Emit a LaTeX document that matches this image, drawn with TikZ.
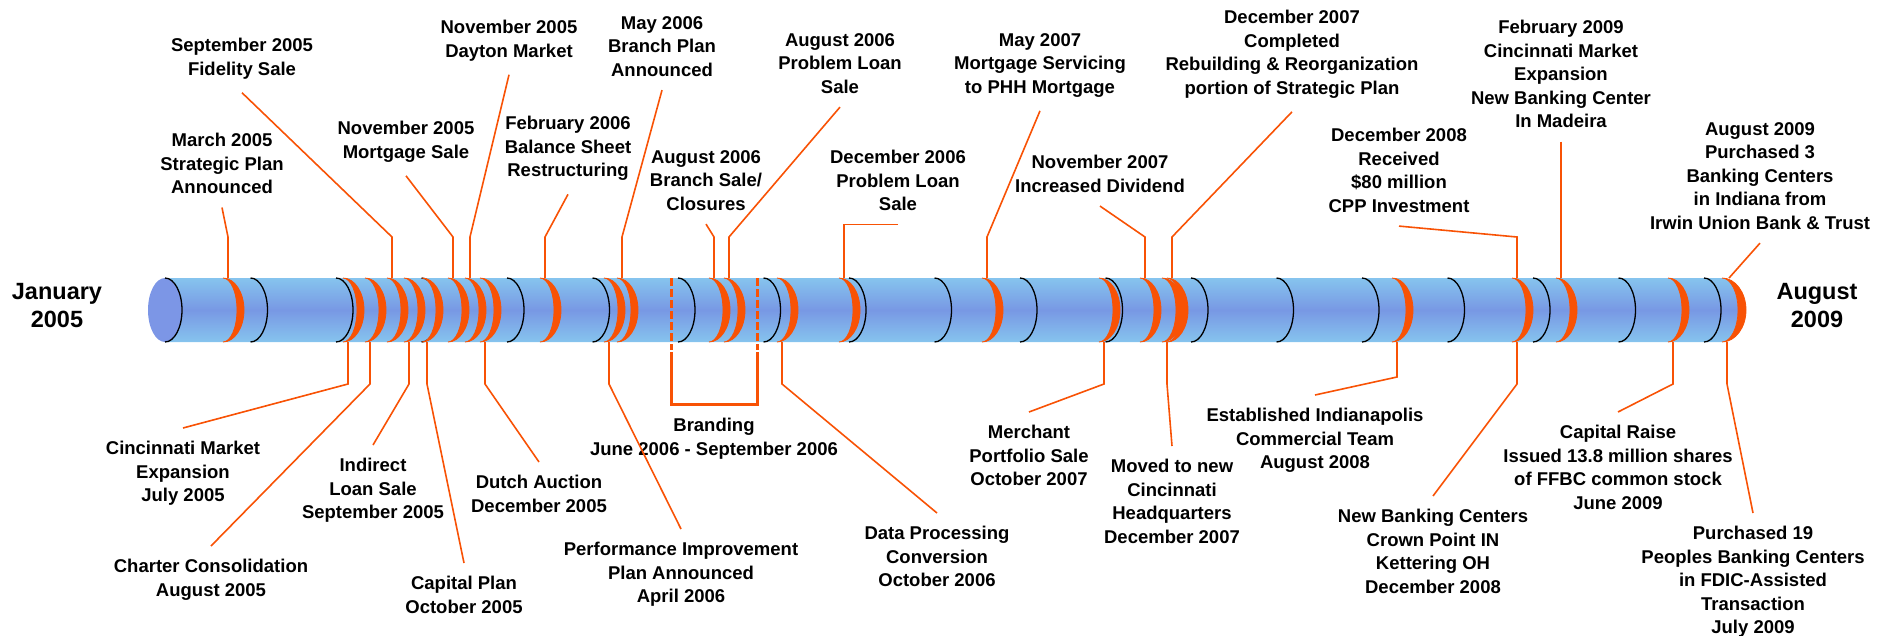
\documentclass[tikz,border=0pt]{standalone}
\usepackage{fontspec}
\setmainfont{Liberation Sans}
\definecolor{tlorange}{RGB}{248,82,5}
\definecolor{tubelight}{RGB}{134,196,238}
\definecolor{tubemid}{RGB}{120,152,228}
\definecolor{tubecap}{RGB}{124,150,230}
\tikzset{
  evt/.style={font=\bfseries\fontsize{18.5}{23.5}\selectfont,align=center,inner sep=0pt,outer ysep=13.5pt,anchor=north},
  datelbl/.style={font=\bfseries\fontsize{23.5}{28}\selectfont,align=center,inner sep=0pt},
  conn/.style={draw=tlorange,line width=1.6pt},
}
\begin{document}
\begin{tikzpicture}[x=1pt,y=1pt]
\useasboundingbox (0,0) rectangle (1891,-635);
\pgfmathsetmacro{\haut}{-278}
\pgfmathsetmacro{\bas}{-342}
% the tube
\shade[top color=tubelight,bottom color=tubelight,middle color=tubemid] (165,\haut) -- (1722,\haut) arc[start angle=90,end angle=-90,x radius=16pt,y radius=32pt] -- (165,\bas) -- cycle;
\fill[tubecap] (165,-310) ellipse [x radius=17pt,y radius=32pt];
\foreach \i in {0,...,18} \draw[line width=1.3pt] ({165+85.5*\i},\haut) arc[start angle=90,end angle=-90,x radius=17pt,y radius=32pt];
\foreach \x in {223,343,365,387,404,422,448,465,480,540,604,617,709,724,777,839,982,1099,1140,1162,1167,1392,1512,1556,1668}
  \filldraw[tlorange,line width=0.8pt] (\x,\haut) arc[start angle=90,end angle=-90,x radius=21pt,y radius=32pt] arc[start angle=-90,end angle=90,x radius=14pt,y radius=32pt] -- cycle;
\filldraw[tlorange,line width=0.8pt] (1722,\haut) arc[start angle=90,end angle=-90,x radius=24pt,y radius=32pt] arc[start angle=-90,end angle=90,x radius=16pt,y radius=32pt] -- cycle;
% branding bracket
\foreach \x in {671,757} \draw[tlorange,line width=3pt,dash pattern=on 8pt off 3pt] (\x,\haut) -- (\x,-350);
\draw[tlorange,line width=3pt] (671,-352) -- (671,-404) -- (757,-404) -- (757,-352);
% end dates
\node[datelbl] (jan05) at (57,-306) {January\\2005};
\node[datelbl] (aug09end) at (1817,-306) {August\\2009};
% events above
\node[evt] (mar) at (222,-120) {March 2005\\Strategic Plan\\Announced};
\node[evt] (sepf) at (242,-25) {September 2005\\Fidelity Sale};
\node[evt] (novm) at (406,-108) {November 2005\\Mortgage Sale};
\node[evt] (novd) at (509,-7) {November 2005\\Dayton Market};
\node[evt] (feb06) at (568,-103) {February 2006\\Balance Sheet\\Restructuring};
\node[evt] (may06) at (662,-3) {May 2006\\Branch Plan\\Announced};
\node[evt] (augb) at (706,-137) {August 2006\\Branch Sale/\\Closures};
\node[evt] (augp) at (840,-20) {August 2006\\Problem Loan\\Sale};
\node[evt] (dec06) at (898,-137) {December 2006\\Problem Loan\\Sale};
\node[evt] (may07) at (1040,-20) {May 2007\\Mortgage Servicing\\to PHH Mortgage};
\node[evt] (nov07) at (1100,-142) {November 2007\\Increased Dividend};
\node[evt] (dec07) at (1292,3) {December 2007\\Completed\\Rebuilding \& Reorganization\\portion of Strategic Plan};
\node[evt] (dec08) at (1399,-115) {December 2008\\Received\\\$80 million\\CPP Investment};
\node[evt] (feb09) at (1561,-7) {February 2009\\Cincinnati Market\\Expansion\\New Banking Center\\In Madeira};
\node[evt] (aug09) at (1760,-109) {August 2009\\Purchased 3\\Banking Centers\\in Indiana from\\Irwin Union Bank \& Trust};
% events below
\node[evt] (jul05) at (183,-428) {Cincinnati Market\\Expansion\\July 2005};
\node[evt] (aug05) at (211,-546) {Charter Consolidation\\August 2005};
\node[evt] (sep05) at (373,-445) {Indirect\\Loan Sale\\September 2005};
\node[evt] (oct05) at (464,-563) {Capital Plan\\October 2005};
\node[evt] (dec05) at (539,-462) {Dutch Auction\\December 2005};
\node[evt] (apr06) at (681,-529) {Performance Improvement\\Plan Announced\\April 2006};
\node[evt] (brand) at (714,-405) {Branding\\June 2006 - September 2006};
\node[evt] (oct06) at (937,-513) {Data Processing\\Conversion\\October 2006};
\node[evt] (oct07) at (1029,-412) {Merchant\\Portfolio Sale\\October 2007};
\node[evt] (dec07m) at (1172,-446) {Moved to new\\Cincinnati\\Headquarters\\December 2007};
\node[evt] (aug08) at (1315,-395) {Established Indianapolis\\Commercial Team\\August 2008};
\node[evt] (dec08n) at (1433,-496) {New Banking Centers\\Crown Point IN\\Kettering OH\\December 2008};
\node[evt] (jun09) at (1618,-412) {Capital Raise\\Issued 13.8 million shares\\of FFBC common stock\\June 2009};
\node[evt] (jul09) at (1753,-513) {Purchased 19\\Peoples Banking Centers\\in FDIC-Assisted\\Transaction\\July 2009};
% connectors
\foreach \n/\x in {mar/228,sepf/392,novm/453,novd/470,feb06/545,may06/622,augb/714,augp/729,may07/987,nov07/1145,dec07/1172,dec08/1517} {
  \coordinate (\n-r) at (\x,\haut);
  \draw[conn] (\n.south) -- ([yshift=41pt]\n-r) -- (\n-r);
}
\coordinate (dec06-r) at (844,\haut);
\draw[conn] (dec06.south) -| (dec06-r);
\coordinate (feb09-r) at (1561,\haut);
\draw[conn] (feb09.south) -- (feb09-r);
\coordinate (aug09-r) at (1729,\haut);
\draw[conn] (aug09.south) -- (aug09-r);
\foreach \n/\x/\d in {jul05/348/42,aug05/370/42,sep05/409/42,oct05/427/42,dec05/485/42,apr06/609/42,oct06/782/42,oct07/1104/42,dec07m/1167/42,aug08/1397/35,dec08n/1517/42,jun09/1673/42,jul09/1727/42} {
  \coordinate (\n-r) at (\x,\bas);
  \draw[conn] (\n-r) -- ([yshift=-\d pt]\n-r) -- (\n.north);
}
\end{tikzpicture}
\end{document}
